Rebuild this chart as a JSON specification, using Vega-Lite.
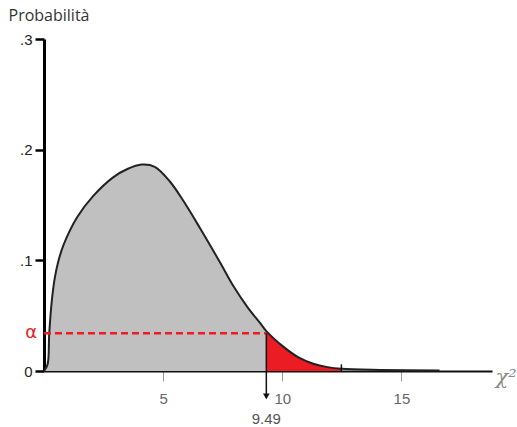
{
  "$schema": "https://vega.github.io/schema/vega-lite/v6.json",
  "width": 448,
  "height": 332,
  "autosize": "none",
  "padding": {"left": 44, "top": 39, "right": 25, "bottom": 56},
  "background": "white",
  "config": {"view": {"stroke": null}},
  "datasets": {
    "curve": [
      {"x": 0, "y": 0},
      {"x": 0.15, "y": 0.006},
      {"x": 0.22, "y": 0.034},
      {"x": 0.33, "y": 0.064},
      {"x": 0.46, "y": 0.085},
      {"x": 0.6, "y": 0.099},
      {"x": 0.82, "y": 0.114},
      {"x": 1.39, "y": 0.139},
      {"x": 2.06, "y": 0.158},
      {"x": 2.9, "y": 0.175},
      {"x": 3.5, "y": 0.1825},
      {"x": 4.1, "y": 0.1865},
      {"x": 4.65, "y": 0.1845},
      {"x": 5.29, "y": 0.171},
      {"x": 5.84, "y": 0.154},
      {"x": 6.55, "y": 0.129},
      {"x": 7.39, "y": 0.098},
      {"x": 7.94, "y": 0.077},
      {"x": 8.53, "y": 0.058},
      {"x": 9.08, "y": 0.043},
      {"x": 9.33, "y": 0.036},
      {"x": 10.04, "y": 0.022},
      {"x": 10.7, "y": 0.012},
      {"x": 11.3, "y": 0.0065},
      {"x": 11.9, "y": 0.0035},
      {"x": 12.48, "y": 0.002},
      {"x": 14.1, "y": 0.001},
      {"x": 16.6, "y": 0.0005}
    ],
    "crit": [{"x": 9.33, "alpha": 0.034, "label": "9.49", "tail": 12.48, "sym": "α", "zero": 0, "low": -0.024, "tick": 0.006, "arrow": -0.023, "labely": -0.043}]
  },
  "layer": [
    {
      "data": {"name": "curve"},
      "transform": [{"filter": "datum.x <= 9.33"}],
      "mark": {"type": "area", "color": "#c0c0c0", "interpolate": "catmull-rom"},
      "encoding": {
        "x": {
          "field": "x", "type": "quantitative",
          "scale": {"domain": [0, 18.8], "nice": false, "zero": true},
          "axis": {
            "values": [5, 10, 15], "grid": false,
            "domainColor": "#111", "domainWidth": 2,
            "tickColor": "#999", "tickWidth": 1, "tickSize": 10,
            "labelColor": "#666", "labelFontSize": 15, "labelFont": "Liberation Sans", "labelPadding": 10,
            "title": "χ²", "titleFont": "DejaVu Serif", "titleFontStyle": "italic", "titleFontWeight": "normal",
            "titleFontSize": 21, "titleColor": "#8a8a8a",
            "titleX": 451, "titleY": 6, "titleAlign": "left", "titleBaseline": "middle"
          }
        },
        "y": {
          "field": "y", "type": "quantitative",
          "scale": {"domain": [0, 0.3], "nice": false},
          "axis": {
            "values": [0, 0.1, 0.2, 0.3], "grid": false,
            "labelExpr": "datum.value == 0 ? '0' : replace(format(datum.value, '.1f'), '0.', '.')",
            "domainColor": "#000", "domainWidth": 3,
            "tickColor": "#000", "tickWidth": 2.5, "tickSize": 9,
            "labelColor": "#222", "labelFontSize": 15, "labelFont": "Liberation Sans", "labelPadding": 3,
            "title": "Probabilità", "titleAngle": 0, "titleFont": "Open Sans", "titleFontWeight": "normal",
            "titleFontSize": 16, "titleColor": "#333",
            "titleX": -36, "titleY": -24, "titleAlign": "left", "titleBaseline": "middle"
          }
        }
      }
    },
    {
      "data": {"name": "curve"},
      "transform": [{"filter": "datum.x >= 9.33 && datum.x <= 12.48"}],
      "mark": {"type": "area", "color": "#ec1c24", "interpolate": "catmull-rom"},
      "encoding": {
        "x": {"field": "x", "type": "quantitative"},
        "y": {"field": "y", "type": "quantitative"}
      }
    },
    {
      "data": {"name": "curve"},
      "mark": {"type": "line", "color": "#222", "strokeWidth": 2, "interpolate": "catmull-rom"},
      "encoding": {
        "x": {"field": "x", "type": "quantitative"},
        "y": {"field": "y", "type": "quantitative"}
      }
    },
    {
      "data": {"name": "crit"},
      "mark": {"type": "rule", "color": "#ec1c24", "strokeWidth": 2.5, "strokeDash": [7, 4]},
      "encoding": {
        "x": {"field": "zero", "type": "quantitative"},
        "x2": {"field": "x"},
        "y": {"field": "alpha", "type": "quantitative"}
      }
    },
    {
      "data": {"name": "crit"},
      "mark": {"type": "rule", "color": "#111", "strokeWidth": 1.5},
      "encoding": {
        "x": {"field": "x", "type": "quantitative"},
        "y": {"field": "alpha", "type": "quantitative"},
        "y2": {"field": "low"}
      }
    },
    {
      "data": {"name": "crit"},
      "mark": {"type": "rule", "color": "#111", "strokeWidth": 1.5},
      "encoding": {
        "x": {"field": "tail", "type": "quantitative"},
        "y": {"field": "zero", "type": "quantitative"},
        "y2": {"field": "tick"}
      }
    },
    {
      "data": {"name": "crit"},
      "mark": {"type": "point", "shape": "triangle-down", "filled": true, "color": "#111", "size": 45, "opacity": 1},
      "encoding": {
        "x": {"field": "x", "type": "quantitative"},
        "y": {"field": "arrow", "type": "quantitative"}
      }
    },
    {
      "data": {"name": "crit"},
      "mark": {"type": "text", "color": "#555", "fontSize": 15, "font": "Liberation Sans", "baseline": "middle", "align": "center"},
      "encoding": {
        "x": {"field": "x", "type": "quantitative"},
        "y": {"field": "labely", "type": "quantitative"},
        "text": {"field": "label"}
      }
    },
    {
      "data": {"name": "crit"},
      "mark": {"type": "text", "color": "#ec1c24", "fontSize": 18, "font": "DejaVu Sans", "baseline": "middle", "align": "right", "dx": -7},
      "encoding": {
        "x": {"field": "zero", "type": "quantitative"},
        "y": {"field": "alpha", "type": "quantitative"},
        "text": {"field": "sym"}
      }
    }
  ]
}
